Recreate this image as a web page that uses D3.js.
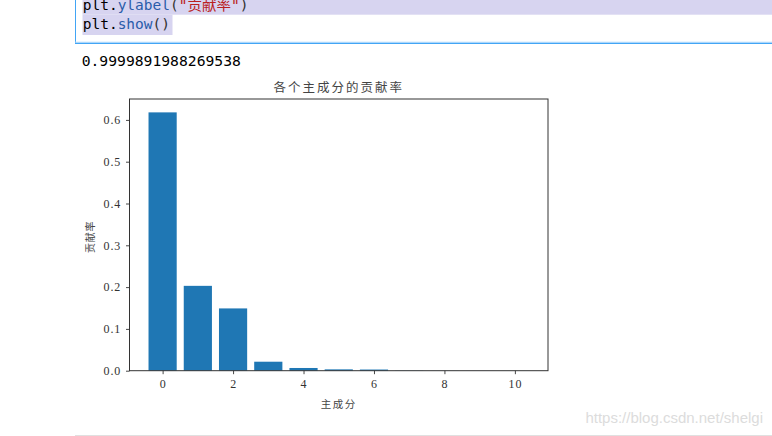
<!DOCTYPE html>
<html>
<head>
<meta charset="utf-8">
<script src="https://cdn.jsdelivr.net/npm/d3@7"></script>
<style>
  html, body { margin: 0; padding: 0; background: #fff; }
  svg { display: block; }
</style>
</head>
<body>
<svg id="chart" width="772" height="436"></svg>
<script>
// ---- data ----
const components = [0, 1, 2, 3, 4, 5, 6, 7, 8, 9, 10];
const ratios = [0.618, 0.203, 0.149, 0.0215, 0.0065, 0.0032, 0.0028, 0.0004, 0.0002, 0.0001, 0.00005];
const xTicks = [0, 2, 4, 6, 8, 10];
const yTicks = [0.0, 0.1, 0.2, 0.3, 0.4, 0.5, 0.6];
const titleText = "各个主成分的贡献率";
const xLabelText = "主成分";
const yLabelText = "贡献率";
const outputText = "0.9999891988269538";
const codeLines = [
  [["plt", "#000"], [".", "#000"], ["ylabel", "#2a5caa"], ["(", "#333"], ["\"贡献率\"", "#ba2121"], [")", "#333"]],
  [["plt", "#000"], [".", "#000"], ["show", "#2a5caa"], ["()", "#333"]]
];
const watermark = "https://blog.csdn.net/shelgi";

const svg = d3.select("#chart");

// ---- notebook cell (input) ----
const mono = "'DejaVu Sans Mono', 'Liberation Mono', monospace";
svg.append("rect").attr("x", 82.5).attr("y", 0).attr("width", 772 - 82.5).attr("height", 14.7).attr("fill", "#d7d4f0");
svg.append("rect").attr("x", 82.5).attr("y", 14.7).attr("width", 90).attr("height", 20.3).attr("fill", "#d7d4f0");

codeLines.forEach((line, i) => {
  const t = svg.append("text")
    .attr("x", 82.7)
    .attr("y", 10 + i * 19.3)
    .attr("font-family", mono + ", 'Noto Sans CJK SC'")
    .attr("font-size", "14.5px");
  line.forEach(([s, c]) => t.append("tspan").attr("fill", c).text(s));
});

// cell border
svg.append("line").attr("x1", 75.5).attr("x2", 75.5).attr("y1", 0).attr("y2", 43.5)
  .attr("stroke", "#42a5f5").attr("stroke-width", 1);
svg.append("line").attr("x1", 75).attr("x2", 772).attr("y1", 42.2).attr("y2", 42.2)
  .attr("stroke", "#bbdefb").attr("stroke-width", 1);
svg.append("line").attr("x1", 75).attr("x2", 772).attr("y1", 43.3).attr("y2", 43.3)
  .attr("stroke", "#42a5f5").attr("stroke-width", 1.3);

// output text
svg.append("text").attr("x", 81.7).attr("y", 66)
  .attr("font-family", mono).attr("font-size", "14.7px").attr("fill", "#000")
  .text(outputText);

// ---- chart ----
const axLeft = 129.5, axRight = 548, axTop = 99, axBottom = 370.7;
const x = d3.scaleLinear().domain([-0.94, 10.94]).range([axLeft, axRight]);
const y = d3.scaleLinear().domain([0, 0.65]).range([axBottom, axTop]);
const barW = 0.8;

const cjk = "'Noto Sans CJK SC', sans-serif";
const serif = "'Liberation Serif', 'DejaVu Serif', serif";

svg.append("g").selectAll("rect")
  .data(components)
  .join("rect")
  .attr("x", d => x(d - barW / 2))
  .attr("width", d => x(d + barW / 2) - x(d - barW / 2))
  .attr("y", (d, i) => y(ratios[i]))
  .attr("height", (d, i) => y(0) - y(ratios[i]))
  .attr("fill", "#1f77b4");

// axes
const xAxis = d3.axisBottom(x).tickValues(xTicks).tickSize(3.5).tickPadding(5).tickFormat(d3.format("d"));
const yAxis = d3.axisLeft(y).tickValues(yTicks).tickSize(3.5).tickPadding(5).tickFormat(d3.format(".1f"));

const gx = svg.append("g").attr("transform", `translate(0,${axBottom})`).call(xAxis);
const gy = svg.append("g").attr("transform", `translate(${axLeft},0)`).call(yAxis);
[gx, gy].forEach(g => {
  g.select(".domain").remove();
  g.selectAll(".tick line").attr("stroke", "#333").attr("stroke-width", 0.9);
  g.selectAll(".tick text")
    .attr("font-family", serif).attr("font-size", "12px").attr("fill", "#333")
    .attr("letter-spacing", "0.8px");
});
gx.selectAll(".tick text").attr("dy", "0.71em");

// spines
svg.append("rect")
  .attr("x", axLeft).attr("y", axTop)
  .attr("width", axRight - axLeft).attr("height", axBottom - axTop)
  .attr("fill", "none").attr("stroke", "#333").attr("stroke-width", 1);

// title
svg.append("text")
  .attr("x", (axLeft + axRight) / 2).attr("y", 91.5)
  .attr("text-anchor", "middle")
  .attr("font-family", cjk).attr("font-size", "12.5px").attr("fill", "#444")
  .attr("letter-spacing", "2px")
  .text(titleText);

// x label
svg.append("text")
  .attr("x", (axLeft + axRight) / 2).attr("y", 407.5)
  .attr("text-anchor", "middle")
  .attr("font-family", cjk).attr("font-size", "10.5px").attr("fill", "#444")
  .attr("letter-spacing", "1.5px")
  .text(xLabelText);

// y label
svg.append("text")
  .attr("transform", `translate(93.5,${(axTop + axBottom) / 2 + 2}) rotate(-90)`)
  .attr("text-anchor", "middle")
  .attr("font-family", cjk).attr("font-size", "10px").attr("fill", "#444")
  .attr("letter-spacing", "0.8px")
  .text(yLabelText);

// watermark
svg.append("text")
  .attr("x", 763).attr("y", 423)
  .attr("text-anchor", "end")
  .attr("font-family", "'Liberation Sans', Arial, sans-serif").attr("font-size", "15px")
  .attr("fill", "#dcdcdc")
  .text(watermark);

// bottom separator
svg.append("line").attr("x1", 75).attr("x2", 772).attr("y1", 435.5).attr("y2", 435.5)
  .attr("stroke", "#e0e0e0").attr("stroke-width", 1);
</script>
</body>
</html>
